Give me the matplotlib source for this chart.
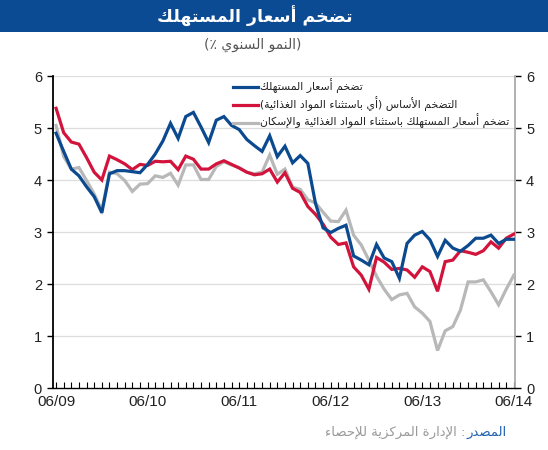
import matplotlib
matplotlib.use("Agg")
import matplotlib.pyplot as plt
from matplotlib.patches import Rectangle
import numpy as np

# ---------------- data ----------------
months = list(range(61))  # monthly, 06/2009 .. 06/2014
x_tick_pos = [0, 12, 24, 36, 48, 60]
x_tick_labels = ["06/09", "06/10", "06/11", "06/12", "06/13", "06/14"]
y_ticks = [0, 1, 2, 3, 4, 5, 6]

cpi = [4.90, 4.55, 4.21, 4.08, 3.87, 3.68, 3.37, 4.12, 4.18, 4.18, 4.16, 4.14,
       4.30, 4.50, 4.75, 5.09, 4.80, 5.22, 5.30, 5.02, 4.72, 5.15, 5.22, 5.05,
       4.97, 4.78, 4.66, 4.55, 4.85, 4.45, 4.65, 4.33, 4.47, 4.32, 3.55, 3.08,
       2.99, 3.07, 3.13, 2.54, 2.46, 2.37, 2.76, 2.50, 2.43, 2.11, 2.78, 2.94,
       3.01, 2.85, 2.53, 2.84, 2.69, 2.63, 2.74, 2.88, 2.88, 2.94, 2.78, 2.86,
       2.86]
core = [5.38, 4.91, 4.73, 4.69, 4.43, 4.15, 4.00, 4.46, 4.39, 4.31, 4.20, 4.30,
        4.28, 4.36, 4.35, 4.36, 4.20, 4.46, 4.40, 4.21, 4.21, 4.31, 4.37, 4.30,
        4.23, 4.15, 4.10, 4.12, 4.21, 3.96, 4.14, 3.84, 3.76, 3.49, 3.34, 3.15,
        2.90, 2.76, 2.79, 2.33, 2.17, 1.90, 2.51, 2.42, 2.28, 2.30, 2.27, 2.13,
        2.33, 2.24, 1.86, 2.43, 2.46, 2.64, 2.61, 2.57, 2.64, 2.81, 2.69, 2.88,
        2.96]
ex_food_housing = [5.05, 4.45, 4.21, 4.24, 3.99, 3.73, 3.42, 4.15, 4.12, 3.99, 3.78, 3.92,
                   3.93, 4.08, 4.05, 4.13, 3.90, 4.29, 4.29, 4.01, 4.01, 4.26, 4.35, 4.29,
                   4.24, 4.15, 4.12, 4.15, 4.48, 4.11, 4.21, 3.86, 3.82, 3.62, 3.56, 3.38,
                   3.21, 3.20, 3.42, 2.94, 2.75, 2.46, 2.15, 1.90, 1.70, 1.79, 1.82, 1.56,
                   1.44, 1.28, 0.72, 1.10, 1.18, 1.50, 2.04, 2.04, 2.08, 1.85, 1.60, 1.90,
                   2.17]

title_text = "تضخم أسعار المستهلك"
subtitle_text = "(النمو السنوي ٪)"
series_labels = [
    "تضخم أسعار المستهلك",
    "التضخم الأساس (أي باستثناء المواد الغذائية)",
    "تضخم أسعار المستهلك باستثناء المواد الغذائية والإسكان",
]
source_head = "المصدر"
source_body = "الإدارة المركزية للإحصاء"

# ---------------- minimal Arabic shaping (presentation forms + visual order) ----------------
_DUAL = {'ئ': 0xFE89, 'ب': 0xFE8F, 'ت': 0xFE95, 'ث': 0xFE99, 'ج': 0xFE9D, 'ح': 0xFEA1,
         'خ': 0xFEA5, 'س': 0xFEB1, 'ش': 0xFEB5, 'ص': 0xFEB9, 'ض': 0xFEBD, 'ط': 0xFEC1,
         'ظ': 0xFEC5, 'ع': 0xFEC9, 'غ': 0xFECD, 'ف': 0xFED1, 'ق': 0xFED5, 'ك': 0xFED9,
         'ل': 0xFEDD, 'م': 0xFEE1, 'ن': 0xFEE5, 'ه': 0xFEE9, 'ي': 0xFEF1}
_RIGHT = {'آ': 0xFE81, 'أ': 0xFE83, 'ؤ': 0xFE85, 'إ': 0xFE87, 'ا': 0xFE8D, 'ة': 0xFE93,
          'د': 0xFEA9, 'ذ': 0xFEAB, 'ر': 0xFEAD, 'ز': 0xFEAF, 'و': 0xFEED, 'ى': 0xFEEF}
_NONE = {'ء': 0xFE80}
_LAMALEF = {'آ': 0xFEF5, 'أ': 0xFEF7, 'إ': 0xFEF9, 'ا': 0xFEFB}


def shape(s):
    chars = []
    i = 0
    while i < len(s):
        c = s[i]
        if c == 'ل' and i + 1 < len(s) and s[i + 1] in _LAMALEF:
            chars.append(('LA', s[i + 1]))
            i += 2
        else:
            chars.append(c)
            i += 1

    def jtype(c):
        if isinstance(c, tuple):
            return 'R'
        if c in _DUAL:
            return 'D'
        if c in _RIGHT:
            return 'R'
        if c in _NONE:
            return 'U'
        return None

    out = []
    for k, c in enumerate(chars):
        t = jtype(c)
        if t is None:
            out.append(c)
            continue
        prev = jtype(chars[k - 1]) if k > 0 else None
        nxt = jtype(chars[k + 1]) if k + 1 < len(chars) else None
        jp = prev == 'D'
        jn = (t == 'D') and nxt in ('D', 'R')
        if isinstance(c, tuple):
            out.append(chr(_LAMALEF[c[1]] + (1 if jp else 0)))
        elif t == 'U':
            out.append(chr(_NONE[c]))
        elif t == 'R':
            out.append(chr(_RIGHT[c] + (1 if jp else 0)))
        else:
            off = 3 if (jp and jn) else 1 if jp else 2 if jn else 0
            out.append(chr(_DUAL[c] + off))
    vis = ''.join(out)[::-1]
    mirror = {'(': ')', ')': '('}
    return ''.join(mirror.get(ch, ch) for ch in vis)


# ---------------- figure ----------------
AR = ['DejaVu Sans']
NUM = ['Liberation Sans', 'DejaVu Sans']

fig = plt.figure(figsize=(5.48, 4.5), dpi=100)
fig.patch.set_facecolor('white')

# title band
fig.patches.append(Rectangle((0, 1 - 32 / 450), 1, 32 / 450, transform=fig.transFigure,
                             facecolor='#0b4b94', edgecolor='none', zorder=0))
fig.text(0.465, 1 - 16 / 450, shape(title_text), color='white', fontsize=12.5,
         fontweight='bold', ha='center', va='center', family=AR)
fig.text(0.462, 1 - 45 / 450, shape(subtitle_text), color='#555555', fontsize=10,
         ha='center', va='center', family=AR)

ax = fig.add_axes([53 / 548, 1 - 388 / 450, (515 - 53) / 548, (388 - 76) / 450])

blue = '#0c4a90'
red = '#d2143c'
gray = '#b8b8b8'

l3, = ax.plot(months, ex_food_housing, color=gray, lw=2.3, solid_joinstyle='miter', zorder=3)
l2, = ax.plot(months, core, color=red, lw=2.3, solid_joinstyle='miter', zorder=4)
l1, = ax.plot(months, cpi, color=blue, lw=2.3, solid_joinstyle='miter', zorder=5)

ax.set_xlim(-0.4, 60.15)
ax.set_ylim(0, 6)
ax.set_yticks(y_ticks)
ax.set_yticklabels([str(v) for v in y_ticks], family=NUM, fontsize=10.5, color='#222222')
ax.set_xticks(x_tick_pos)
ax.set_xticklabels(x_tick_labels, family=NUM, fontsize=11, color='#222222')
ax.set_xticks(months, minor=True)
ax.tick_params(axis='x', which='both', direction='in', length=4, width=0.8, pad=5,
               color='black')
ax.tick_params(axis='y', which='major', direction='out', length=4, width=1.0, color='black',
               left=True, right=True, labelleft=True, labelright=True, pad=4)

for v in y_ticks[1:]:
    ax.axhline(v, color='#dddddd', lw=0.9, zorder=1)

ax.spines['top'].set_visible(False)
ax.spines['left'].set_color('black')
ax.spines['left'].set_linewidth(1.3)
ax.spines['bottom'].set_color('black')
ax.spines['bottom'].set_linewidth(1.0)
ax.spines['right'].set_color('#aaaaaa')
ax.spines['right'].set_linewidth(1.3)
for t in ax.yaxis.get_ticklines()[1::2]:
    t.set_color('#aaaaaa')

leg = fig.legend([l1, l2, l3], [shape(s) for s in series_labels],
                 loc='upper left', bbox_to_anchor=(233 / 548, 1 - 79 / 450),
                 frameon=False, prop={'family': AR, 'size': 7.8},
                 handlelength=2.3, handletextpad=0.2, labelspacing=0.25,
                 borderpad=0, borderaxespad=0)
for t in leg.get_texts():
    t.set_color('#222222')

# source line
head = fig.text(0.925, 1 - 432 / 450, shape(source_head), color='#1f5fae', fontsize=9.5,
                ha='right', va='center', family=AR)
fig.canvas.draw()
bb = head.get_window_extent()
fig.text((bb.x0 - 1) / fig.bbox.width, 1 - 432 / 450, shape(source_body) + " :",
         color='#999999', fontsize=9.5, ha='right', va='center', family=AR)

fig.savefig('out.png', dpi=100)
